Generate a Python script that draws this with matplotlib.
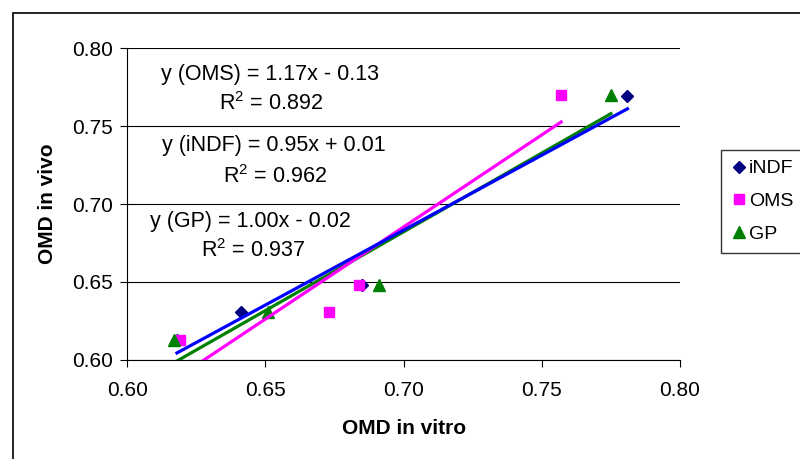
import numpy as np
from matplotlib import pyplot as plt
from matplotlib.patches import Rectangle

plt.rcParams["font.family"] = ["Liberation Sans", "DejaVu Sans"]
plt.rcParams["mathtext.fontset"] = "custom"
plt.rcParams["mathtext.rm"] = "Liberation Sans"

# OMD in vitro (x) vs OMD in vivo (y) for three methods
indf_x = [0.618, 0.641, 0.685, 0.781]
indf_y = [0.613, 0.631, 0.648, 0.769]
oms_x = [0.619, 0.673, 0.684, 0.757]
oms_y = [0.613, 0.631, 0.648, 0.770]
gp_x = [0.617, 0.651, 0.691, 0.775]
gp_y = [0.613, 0.631, 0.648, 0.770]

equations = {
    "OMS": ("y (OMS) = 1.17x - 0.13", "R$^\\mathrm{2}$ = 0.892"),
    "iNDF": ("y (iNDF) = 0.95x + 0.01", "R$^\\mathrm{2}$ = 0.962"),
    "GP": ("y (GP) = 1.00x - 0.02", "R$^\\mathrm{2}$ = 0.937"),
}

fig = plt.figure(figsize = (8, 4.59), dpi = 100)
ax = fig.add_axes([0.159, 0.2157, 0.691, 0.6797])

# chart area border
fig.patches.append(Rectangle((13 / 800, -0.01), 1.0, 1 - 13 / 459 + 0.01,
                             transform = fig.transFigure, fill = False,
                             edgecolor = "black", linewidth = 1.2))

series = [
    ("iNDF", indf_x, indf_y, "D", "#000080", "#0000FF", 6),
    ("OMS", oms_x, oms_y, "s", "#FF00FF", "#FF00FF", 7),
    ("GP", gp_x, gp_y, "^", "#008000", "#008000", 8),
]

for name, xs, ys, marker, mcolor, lcolor, ms in series:
    ax.plot(xs, ys, linestyle = "none", marker = marker, color = mcolor,
            markersize = ms, label = name, zorder = 3)

for name, xs, ys, marker, mcolor, lcolor, ms in reversed(series):
    slope, intercept = np.polyfit(xs, ys, 1)
    xl = np.array([min(xs), max(xs)])
    ax.plot(xl, slope * xl + intercept, color = lcolor, linewidth = 2.3, zorder = 4)

ax.set_xlim(0.60, 0.80)
ax.set_ylim(0.60, 0.80)
ax.set_xticks([0.60, 0.65, 0.70, 0.75, 0.80])
ax.set_yticks([0.60, 0.65, 0.70, 0.75, 0.80])
ax.xaxis.set_major_formatter("{x:.2f}")
ax.yaxis.set_major_formatter("{x:.2f}")
ax.tick_params(direction = "out", length = 5, labelsize = 15)
ax.tick_params(axis = "x", pad = 10)
ax.tick_params(axis = "y", pad = 5)
ax.yaxis.grid(True, color = "black", linewidth = 0.8)
ax.set_axisbelow(True)
for side in ["top", "right"]:
    ax.spines[side].set_visible(False)

ax.set_xlabel("OMD in vitro", fontsize = 15, fontweight = "bold", labelpad = 14)
ax.set_ylabel("OMD in vivo", fontsize = 15, fontweight = "bold", labelpad = 11)

text_pos = {
    "OMS": ((0.6517, 0.7827), (0.6521, 0.7641)),
    "iNDF": ((0.6532, 0.7372), (0.6535, 0.7179)),
    "GP": ((0.6445, 0.6891), (0.6456, 0.6699)),
}
for key, (eq, r2) in equations.items():
    (x1, y1), (x2, y2) = text_pos[key]
    ax.text(x1, y1, eq, fontsize = 15.5, ha = "center", va = "center")
    ax.text(x2, y2, r2, fontsize = 15.5, ha = "center", va = "center")

fig.legend(loc = "upper left", bbox_to_anchor = (721 / 800, 1 - 150 / 459),
           fontsize = 14, frameon = True, fancybox = False, edgecolor = "black",
           handletextpad = 0.15, handlelength = 0.8, borderpad = 0.5,
           labelspacing = 0.78, borderaxespad = 0, handleheight = 0.7)

fig.savefig("out.png", dpi = 100)
